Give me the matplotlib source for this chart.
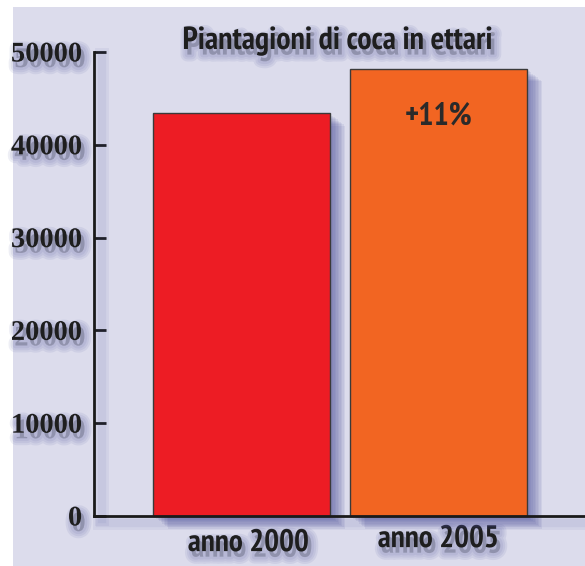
import matplotlib
matplotlib.use('Agg')
import matplotlib.pyplot as plt
import matplotlib.patheffects as pe
import matplotlib.transforms as mtransforms
from matplotlib.patches import Rectangle

# data
anni = ['anno 2000', 'anno 2005']
ettari = [43400, 48200]
colori = ['#ed1c24', '#f26522']
variazione = '+11%'
yticks = [0, 10000, 20000, 30000, 40000, 50000]

bg = '#dcdcec'
glow = '#4a4f9a'
sans = ['PT Sans Narrow', 'Open Sans Condensed', 'DejaVu Sans']
serif = ['Liberation Serif', 'DejaVu Serif']


def patch_glow(dx, dy, n=8, a=0.08):
    # stacked shadows -> soft gradient to the lower right
    eff = [pe.SimplePatchShadow(offset=(dx * k / n, dy * k / n), shadow_rgbFace=glow, alpha=a)
           for k in range(1, n + 1)]
    return eff + [pe.Normal()]


def text_glow(dx=2.5, dy=-4, a=0.09):
    eff = [pe.Stroke(offset=(dx, dy), linewidth=w, foreground=glow, alpha=a)
           for w in (10, 7, 4)]
    return eff + [pe.Normal()]


fig = plt.figure(figsize=(5.85, 5.66), dpi=100)
fig.patch.set_facecolor('white')
fig.patches.append(Rectangle((13 / 585, 0), 1, 1 - 7 / 566, transform=fig.transFigure,
                             facecolor=bg, edgecolor='none', zorder=-10))

ax = fig.add_axes([94 / 585, 50 / 566, 491 / 585, 464 / 566])
ax.patch.set_visible(False)

x = [0, 1]
bars = ax.bar(x, ettari, width=0.898, color=colori, edgecolor='#3a3a3a', linewidth=1.0, zorder=3)
for b in bars:
    b.set_clip_on(False)
    b.set_path_effects(patch_glow(11, -9, n=10, a=0.09))

ax.set_xlim(-0.749, 1.744)
ax.set_ylim(0, 50000)

for s in ['top', 'right']:
    ax.spines[s].set_visible(False)
for s in ['left', 'bottom']:
    ax.spines[s].set_linewidth(2.0)
    ax.spines[s].set_color('#1a1a1a')
    ax.spines[s].set_zorder(4)
ax.spines['left'].set_path_effects(
    [pe.Stroke(offset=(6, -2), linewidth=w, foreground=glow, alpha=0.07) for w in (10, 6)] + [pe.Normal()])
ax.spines['bottom'].set_path_effects(
    [pe.Stroke(offset=(4, -5), linewidth=w, foreground=glow, alpha=0.07) for w in (10, 6)] + [pe.Normal()])

ax.set_yticks(yticks)
ax.set_yticklabels([str(v) for v in yticks])
ax.tick_params(axis='y', direction='in', length=8.5, width=2, color='#1a1a1a', pad=8.5)
ax.tick_params(axis='x', length=0, pad=8)
ax.set_xticks(x)
ax.set_xticklabels(anni)

for lab in ax.get_yticklabels():
    lab.set_fontfamily(serif)
    lab.set_fontweight('bold')
    lab.set_fontsize(20.5)
    lab.set_color('#1e1e1e')
    lab.set_path_effects(text_glow())
for lab in ax.get_xticklabels():
    lab.set_fontfamily(sans)
    lab.set_fontweight('bold')
    lab.set_fontsize(22.5)
    lab.set_color('#1e1e1e')
    lab.set_path_effects(text_glow())
# first label a bit to the right, second a bit higher, as in the original
shifts = [(0.07, -0.02), (0.0, 0.02)]
for lab, (sx, sy) in zip(ax.get_xticklabels(), shifts):
    lab.set_transform(lab.get_transform() + mtransforms.ScaledTranslation(sx, sy, fig.dpi_scale_trans))

ax.text(x[1], ettari[1] - 5200, variazione, ha='center', va='center',
        fontsize=23, fontweight='bold', family=sans, color='#2a2a2a', zorder=5)

fig.text(337 / 585, 1 - 41 / 566, 'Piantagioni di coca in ettari', ha='center', va='center',
         fontsize=23, fontweight='bold', family=sans, color='#1e1e1e',
         path_effects=text_glow())

fig.savefig('out.png', dpi=100)
